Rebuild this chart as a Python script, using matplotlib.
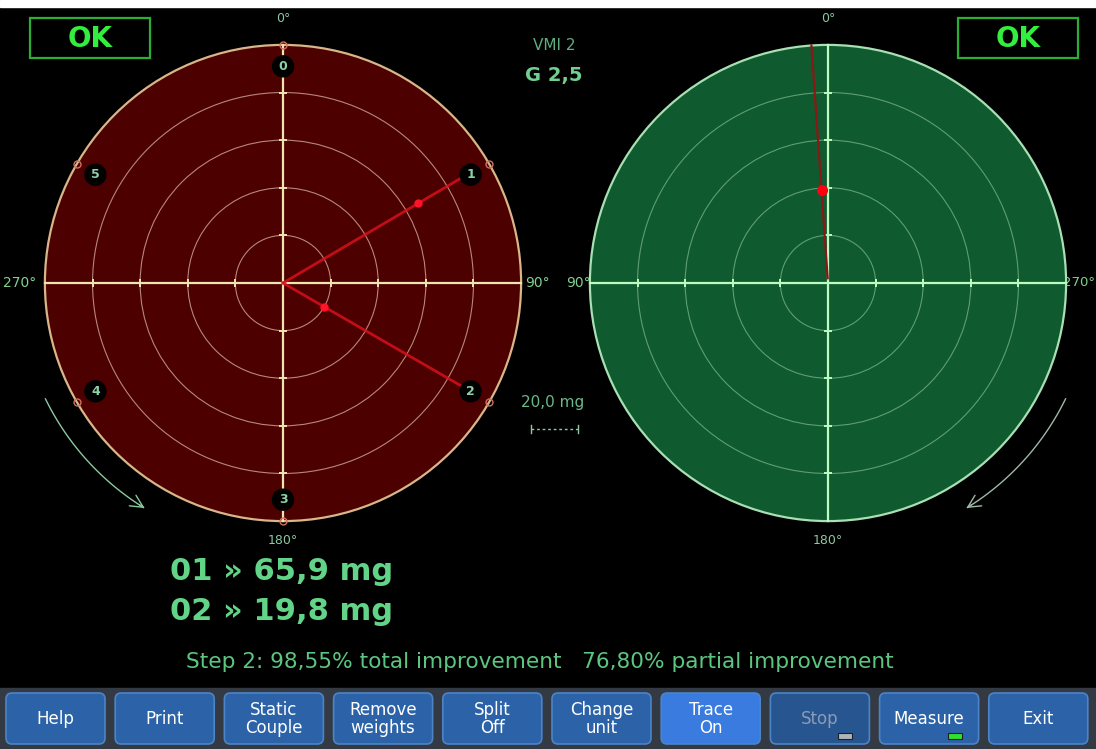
import numpy as np
import matplotlib
matplotlib.use('Agg')
import matplotlib.pyplot as plt
from matplotlib.patches import Circle, Rectangle, FancyBboxPatch

# balancing data (mg, angles in degrees)
ring_step = 20.0
n_rings = 5
pos_angles = [0, 60, 120, 180, 240, 300]
pos_labels = ['0', '1', '2', '3', '4', '5']
vec_names = ['01', '02']
vec_angles = [59.5, 120.0]
vec_values = [65.9, 19.8]
trace_angle = 4.0
trace_value = 39.0
buttons = ['Help', 'Print', 'Static\nCouple', 'Remove\nweights', 'Split\nOff',
           'Change\nunit', 'Trace\nOn', 'Stop', 'Measure', 'Exit']
step_text = 'Step 2: 98,55% total improvement   76,80% partial improvement'

W, H = 1096, 749
R = n_rings * ring_step


def polar(r, ang, mirror=False):
    a = np.radians(ang)
    x = np.asarray(r) * np.sin(a)
    if mirror:
        x = -x
    return x, np.asarray(r) * np.cos(a)


def disc(ax, face, ring_col, edge_col, cross_col):
    ax.set_xlim(-105, 105)
    ax.set_ylim(-105, 105)
    ax.axis('off')
    ax.add_patch(Circle((0, 0), R, facecolor=face, edgecolor=edge_col, lw=1.6, zorder=1))
    for k in range(1, n_rings):
        ax.add_patch(Circle((0, 0), k * ring_step, fill=False, edgecolor=ring_col, lw=0.8, zorder=2))
    ax.plot([-R, R], [0, 0], color=cross_col, lw=1.6, zorder=3)
    ax.plot([0, 0], [-R, R], color=cross_col, lw=1.6, zorder=3)
    rr = np.arange(1, n_rings) * ring_step
    ax.plot(np.concatenate([rr, -rr]), np.zeros(2 * len(rr)), ls='none', marker='|',
            ms=6, mew=1.4, color=cross_col, zorder=3)
    ax.plot(np.zeros(2 * len(rr)), np.concatenate([rr, -rr]), ls='none', marker='_',
            ms=6, mew=1.4, color=cross_col, zorder=3)


def rot_arrow(ax, mirror, color):
    th = np.linspace(244, 211, 40)
    x, y = polar(111, th, mirror)
    ax.plot(x[:-1], y[:-1], color=color, lw=1.0, clip_on=False)
    ax.annotate('', xy=(x[-1], y[-1]), xytext=(x[-4], y[-4]), annotation_clip=False,
                arrowprops=dict(arrowstyle='->,head_length=0.9,head_width=0.45',
                                color=color, lw=1.0))


fig = plt.figure(figsize=(W / 100, H / 100), dpi=100)
fig.patch.set_facecolor('black')
bg = fig.add_axes([0, 0, 1, 1])
bg.set_xlim(0, W)
bg.set_ylim(H, 0)
bg.axis('off')
bg.add_patch(Rectangle((0, 0), W, H, color='black', zorder=0))
bg.add_patch(Rectangle((0, 0), W, 7, color='white', zorder=1))

# left disc (unbalance vectors)
axl = fig.add_axes([33 / W, 216 / H, 500 / W, 500 / H])
disc(axl, '#4c0000', '#b88878', '#d8b68a', '#efe4b0')
mx, my = polar(R, pos_angles)
axl.plot(mx, my, ls='none', marker='o', ms=5, mfc='none', mec='#d07060', mew=1.0, zorder=4)
for ang, val in zip(vec_angles, vec_values):
    ex, ey = polar(88, ang)
    axl.plot([0, ex], [0, ey], color='#d8101c', lw=2.0, alpha=0.85, zorder=5)
    dx, dy = polar(val, ang)
    axl.plot(dx, dy, 'o', ms=5, color='#ff1428', zorder=6)
lx, ly = polar(91, pos_angles)
for x, y, t in zip(lx, ly, pos_labels):
    axl.add_patch(Circle((x, y), 4.4, color='black', zorder=7))
    axl.text(x, y, t, color='#8fd0a8', fontsize=9, fontweight='bold',
             ha='center', va='center', zorder=8)
rot_arrow(axl, False, '#8cc8a0')

# right disc (trace)
axr = fig.add_axes([578 / W, 216 / H, 500 / W, 500 / H])
disc(axr, '#0f5a2e', '#5f9e72', '#a8e0b4', '#bdfcc0')
tx, ty = polar([2, R], trace_angle, True)
axr.plot(tx, ty, color='#8a1818', lw=1.6, zorder=5)
px, py = polar(trace_value, trace_angle, True)
axr.plot(px, py, 'o', ms=7, color='#ff0010', zorder=6)
rot_arrow(axr, True, '#a0b8a8')

# angle labels
lab = dict(color='#8cc8a0', fontsize=9, ha='center', va='center')
bg.text(283, 18, '0°', **lab)
bg.text(283, 540, '180°', **lab)
bg.text(20, 283, '270°', color='#80d090', fontsize=10, ha='center', va='center')
bg.text(537, 283, '90°', color='#80d090', fontsize=10, ha='center', va='center')
bg.text(828, 18, '0°', **lab)
bg.text(828, 540, '180°', **lab)
bg.text(578, 283, '90°', color='#80d090', fontsize=10, ha='center', va='center')
bg.text(1095, 283, '270°', color='#80d090', fontsize=9.5, ha='right', va='center')

# OK boxes
for x0 in [30, 958]:
    bg.add_patch(Rectangle((x0, 18), 120, 40, fill=False, edgecolor='#2aae34', lw=1.6))
    bg.text(x0 + 60, 39, 'OK', color='#33ee3c', fontsize=20, fontweight='bold',
            ha='center', va='center')

bg.text(554, 45, 'VMI 2', color='#5fae80', fontsize=11, ha='center', va='center')
bg.text(554, 76, 'G 2,5', color='#6fd090', fontsize=14, fontweight='bold',
        ha='center', va='center')

# scale
bg.text(553, 403, '20,0 mg', color='#6ab888', fontsize=11, ha='center', va='center')
bg.plot([531, 578], [429, 429], color='#8cc8a0', lw=1, ls=(0, (2, 2)))
bg.plot([531, 531], [425, 433], color='#8cc8a0', lw=1)
bg.plot([578, 578], [425, 433], color='#8cc8a0', lw=1)

# results
for i, (n, v) in enumerate(zip(vec_names, vec_values)):
    bg.text(170, 572 + 39 * i, f'{n} » {v:.1f} mg'.replace('.', ','), color='#62d488',
            fontsize=22, fontweight='bold', ha='left', va='center')
bg.text(540, 662, step_text, color='#5cc580', fontsize=15.6, ha='center', va='center')

# button bar
bg.add_patch(Rectangle((0, 688), W, H - 688, color='#343a44', zorder=1))
for i, b in enumerate(buttons):
    x0 = 6 + 109.2 * i
    face, txt = '#2c63a8', 'white'
    if b.startswith('Trace'):
        face = '#3a7be0'
    if b == 'Stop':
        face, txt = '#26558f', '#8c9cb4'
    bg.add_patch(FancyBboxPatch((x0, 693), 99, 51, boxstyle='round,pad=0,rounding_size=6',
                                facecolor=face, edgecolor='#4c84c8', lw=1.2, zorder=2))
    bg.text(x0 + 49.5, 719, b, color=txt, fontsize=12, ha='center', va='center',
            linespacing=1.0, zorder=3)
    if b in ('Stop', 'Measure'):
        col = '#b0b4b8' if b == 'Stop' else '#30e030'
        bg.add_patch(Rectangle((x0 + 68, 733), 14, 6, facecolor=col,
                               edgecolor='#202020', lw=0.8, zorder=3))

fig.savefig('out.png', dpi=100, facecolor='black')
